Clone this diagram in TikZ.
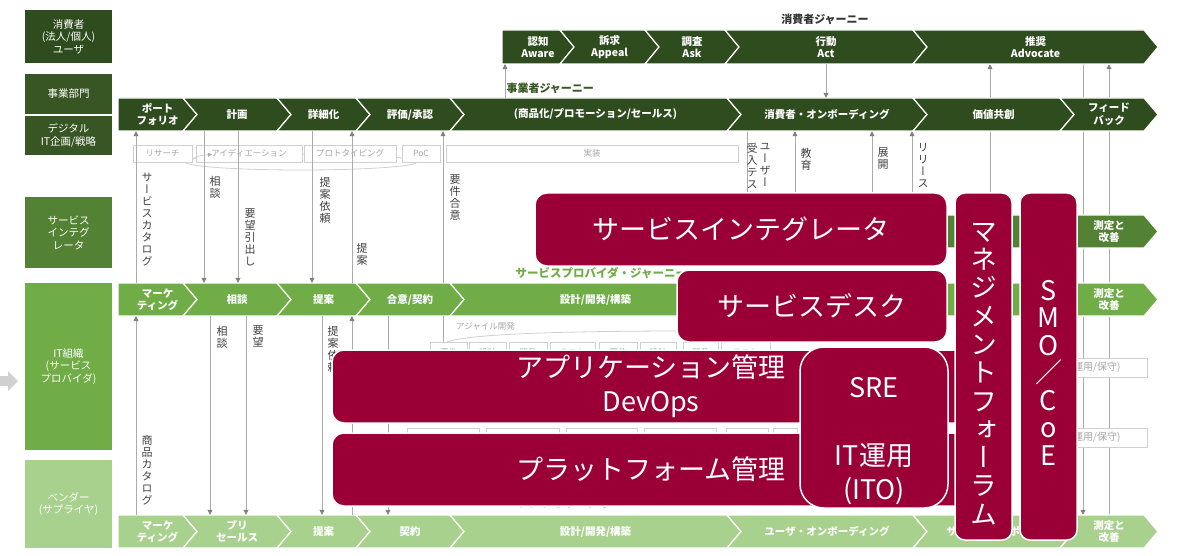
\documentclass[tikz,border=0pt]{standalone}
\usepackage{fontspec}
\setmainfont{Noto Sans CJK JP}
\newfontfamily\vjp{Noto Sans CJK JP}[RawFeature=+vert]
\usetikzlibrary{arrows.meta,calc}
\definecolor{jDark}{HTML}{2F4C1F}
\definecolor{jBiz}{HTML}{375623}
\definecolor{jSI}{HTML}{548235}
\definecolor{jIT}{HTML}{70AD47}
\definecolor{jVen}{HTML}{A9D18E}
\definecolor{roleRed}{HTML}{9A0036}
\definecolor{lineGray}{HTML}{ABABAB}
\definecolor{tipGray}{HTML}{808080}
\definecolor{boxGray}{HTML}{D0D0D0}
\definecolor{txtGray}{HTML}{A6A6A6}
\pgfdeclarelayer{bg}
\pgfsetlayers{bg,main}
\tikzset{
    side/.style={
        text=white,
        align=center,
        inner sep=0pt,
        font=\fontsize{10.5}{12.5}\selectfont
    },
    seglabel/.style={
        text=white,
        align=center,
        inner sep=0pt,
        font=\bfseries\fontsize{10.5}{12.5}\selectfont
    },
    taskbox/.style={
        draw=boxGray,
        fill=white,
        text=txtGray,
        inner sep=0pt,
        minimum height=17pt,
        font=\fontsize{8.5}{10}\selectfont
    },
    vlabel/.style={
        anchor=north,
        align=center,
        inner sep=0pt,
        text=black!75,
        font=\vjp\fontsize{11}{12}\selectfont
    },
    flow/.style={
        draw=lineGray,
        line width=0.7pt,
        -{Triangle[width=5pt,length=5pt,color=tipGray]}
    },
    plainline/.style={
        draw=lineGray,
        line width=0.7pt
    },
    loopline/.style={
        draw=boxGray,
        line width=0.8pt
    },
    role/.style={
        fill=roleRed,
        draw=white,
        line width=1.5pt,
        rounded corners=12pt,
        text=white,
        align=center,
        inner sep=0pt,
        font=\fontsize{27}{34}\selectfont
    },
    roletext/.style={
        text=white,
        align=center,
        inner sep=0pt,
        font=\fontsize{27}{34}\selectfont
    },
    journey/.style={
        font=\bfseries\fontsize{11}{12}\selectfont
    }
}
% one chevron of a journey row: name, left x, right x, top y, bottom y, colour, notch, label
\newcommand{\chevseg}[8]{%
    \pgfmathsetmacro{\segmid}{(#4+#5)/2}%
    \pgfmathsetmacro{\segcx}{(#2+#3)/2+7}%
    \fill[#6, draw=white, line width=1.2pt] (#2,#4) -- (#3,#4) -- (#3+14,\segmid) -- (#3,#5) -- (#2,#5) -- (#2+#7,\segmid) -- cycle;
    \node[seglabel, minimum width={(#3-#2)*1pt}, minimum height={(#5-#4)*1pt}] (#1) at (\segcx,\segmid) {#8};
}
\begin{document}
\begin{tikzpicture}[x=1pt, y=-1pt]
    \useasboundingbox (0,0) rectangle (1178,556);

    % Actors on the left
    \node[side, fill=jDark, minimum width=87pt, minimum height=53pt] (sideUser) at (68.5,36.5) {消費者\\(法人/個人)\\ユーザ};
    \node[side, fill=jBiz, minimum width=87pt, minimum height=40pt] (sideBiz) at (68.5,94) {事業部門};
    \node[side, fill=jBiz, minimum width=87pt, minimum height=39pt] (sideDx) at (68.5,135.5) {デジタル\\IT企画/戦略};
    \node[side, fill=jSI, minimum width=87pt, minimum height=71pt] (sideSI) at (68.5,232.5) {サービス\\インテグ\\レータ};
    \node[side, fill=jIT, minimum width=87pt, minimum height=167pt] (sideIT) at (68.5,366.5) {IT組織\\(サービス\\プロバイダ)};
    \node[side, fill=jVen, minimum width=87pt, minimum height=88pt] (sideVen) at (68.5,504) {ベンダー\\(サプライヤ)};
    \fill[boxGray] (0,376) -- (8,376) -- (8,371) -- (18,381) -- (8,391) -- (8,386) -- (0,386) -- cycle;

    % Journey titles
    \node[journey, text=black!80] (userJourney) at (825,19) {消費者ジャーニー};
    \node[journey, text=jBiz, anchor=west] (bizJourney) at (503,88) {事業者ジャーニー};

    % Consumer journey
    \chevseg{aware}{502}{560}{30}{64}{jDark}{0}{認知\\Aware}
    \chevseg{appeal}{560}{645}{30}{64}{jDark}{14}{訴求\\Appeal}
    \chevseg{ask}{645}{725}{30}{64}{jDark}{14}{調査\\Ask}
    \chevseg{act}{725}{913}{30}{64}{jDark}{14}{行動\\Act}
    \chevseg{advocate}{913}{1144}{30}{64}{jDark}{14}{推奨\\Advocate}

    % Business journey
    \chevseg{bizPf}{118}{183}{98}{131}{jDark}{0}{ポート\\フォリオ}
    \chevseg{bizPlan}{183}{277}{98}{131}{jDark}{14}{計画}
    \chevseg{bizDet}{277}{356}{98}{131}{jDark}{14}{詳細化}
    \chevseg{bizEval}{356}{450}{98}{131}{jDark}{14}{評価/承認}
    \chevseg{bizSales}{450}{727}{98}{131}{jDark}{14}{(商品化/プロモーション/セールス)}
    \chevseg{bizOnb}{727}{913}{98}{131}{jDark}{14}{消費者・オンボーディング}
    \chevseg{bizCo}{913}{1060}{98}{131}{jDark}{14}{価値共創}
    \chevseg{bizFb}{1060}{1144}{98}{131}{jDark}{14}{フィード\\バック}

    % Service integrator row
    \chevseg{siA}{727}{913}{215}{248}{jSI}{14}{}
    \chevseg{siB}{913}{1060}{215}{248}{jSI}{14}{}
    \chevseg{siMeas}{1060}{1144}{215}{248}{jSI}{14}{測定と\\改善}

    % Service provider journey
    \chevseg{itMkt}{118}{183}{283}{316}{jIT}{0}{マーケ\\ティング}
    \chevseg{itCon}{183}{277}{283}{316}{jIT}{14}{相談}
    \chevseg{itProp}{277}{356}{283}{316}{jIT}{14}{提案}
    \chevseg{itAgree}{356}{450}{283}{316}{jIT}{14}{合意/契約}
    \chevseg{itBuild}{450}{727}{283}{316}{jIT}{14}{設計/開発/構築}
    \chevseg{itOnb}{727}{913}{283}{316}{jIT}{14}{}
    \chevseg{itRun}{913}{1060}{283}{316}{jIT}{14}{}
    \chevseg{itMeas}{1060}{1144}{283}{316}{jIT}{14}{測定と\\改善}

    % Supplier journey
    \chevseg{venMkt}{118}{183}{515}{548}{jVen}{0}{マーケ\\ティング}
    \chevseg{venPre}{183}{277}{515}{548}{jVen}{14}{プリ\\セールス}
    \chevseg{venProp}{277}{356}{515}{548}{jVen}{14}{提案}
    \chevseg{venDeal}{356}{450}{515}{548}{jVen}{14}{契約}
    \chevseg{venBuild}{450}{727}{515}{548}{jVen}{14}{設計/開発/構築}
    \chevseg{venOnb}{727}{913}{515}{548}{jVen}{14}{ユーザ・オンボーディング}
    \chevseg{venSup}{913}{1060}{515}{548}{jVen}{14}{サービス・サポート}
    \chevseg{venMeas}{1060}{1144}{515}{548}{jVen}{14}{測定と\\改善}

    % Planning tasks
    \draw[loopline] (301,162) ellipse [x radius=116, y radius=8];
    \node[taskbox, minimum width=59pt] (research) at (162.5,153.5) {リサーチ};
    \node[taskbox, minimum width=106pt] (ideation) at (249,153.5) {アイディエーション};
    \node[taskbox, minimum width=92pt] (proto) at (350,153.5) {プロトタイピング};
    \node[taskbox, minimum width=38pt] (poc) at (421,153.5) {PoC};
    \node[taskbox, minimum width=292pt] (impl) at (592,153.5) {実装};
    \draw[loopline, -{Triangle[width=4pt,length=4pt,color=lineGray]}] (193,158.5) .. controls (198,156) .. (212,154.3);

    % Business <-> consumer
    \draw[flow] (505,0 |- bizSales.north) -- (505,0 |- aware.south);
    \draw[flow] (826,0 |- act.south) -- (826,0 |- bizOnb.north);

    % Business <-> service provider
    \draw[flow] (136,0 |- itMkt.north) -- (136,0 |- bizPf.south);
    \foreach \x/\a/\b in {204/bizPlan/itCon, 238/bizPlan/itCon, 312/bizDet/itProp}
        \draw[flow] (\x,0 |- \a.south) -- (\x,0 |- \b.north);
    \foreach \x/\a/\b in {352/itProp/bizDet, 443/itAgree/bizEval}
        \draw[flow] (\x,0 |- \a.north) -- (\x,0 |- \b.south);

    % Service provider <-> supplier
    \draw[flow] (136,0 |- venMkt.north) -- (136,0 |- itMkt.south);
    \foreach \x/\a/\b in {210/itCon/venPre, 246/itCon/venPre, 322/itProp/venProp, 388/itAgree/venDeal}
        \draw[flow] (\x,0 |- \a.south) -- (\x,0 |- \b.north);
    \draw[flow] (352,0 |- venProp.north) -- (352,0 |- itProp.south);
    \coordinate (agileTop) at (443,344);
    \draw[plainline] (443,0 |- itAgree.south) -- (agileTop);

    % Arrow texts
    \node[vlabel] (tCatalog) at (147,173) {サ\\ー\\ビ\\ス\\カ\\タ\\ロ\\グ};
    \node[vlabel] (tTalk) at (215,176) {相\\談};
    \node[vlabel] (tNeeds) at (250,209) {要\\望\\引\\出\\し};
    \node[vlabel] (tRfp) at (325,177) {提\\案\\依\\頼};
    \node[vlabel] (tProp) at (362,243) {提\\案};
    \node[vlabel] (tReq) at (455,175) {要\\件\\合\\意};
    \node[vlabel] (tUser) at (765,143) {ユ\\ー\\ザ\\ー};
    \node[vlabel] (tUat) at (752,143) {受\\入\\テ\\ス\\ト};
    \node[vlabel] (tEdu) at (806,148) {教\\育};
    \node[vlabel] (tDeploy) at (883,148) {展\\開};
    \node[vlabel] (tRelease) at (923,143) {リ\\リ\\ー\\ス};
    \node[vlabel] (tTalk2) at (222,326) {相\\談};
    \node[vlabel] (tNeeds2) at (258,326) {要\\望};
    \node[vlabel] (tRfp2) at (333,326) {提\\案\\依\\頼};
    \node[vlabel] (tProducts) at (147,435) {商\\品\\カ\\タ\\ロ\\グ};

    % Agile development
    \node[anchor=west, text=txtGray, inner sep=0pt, font=\fontsize{8.5}{10}\selectfont] (agileLbl) at (456,326) {アジャイル開発};
    \draw[loopline] (agileTop) .. controls (455,334) and (560,331) .. (690,331);
    \foreach \a/\b/\t [count=\i] in {430/467/要件, 469/506/設計, 509/547/開発, 550/595/テスト, 599/637/要件, 640/676/設計, 683/718/開発, 721/770/テスト}
        \node[taskbox, minimum width={(\b-\a)*1pt}, minimum height=20pt] (agile\i) at ({(\a+\b)/2},352) {\t};
    \foreach \a/\b [count=\i] in {407/479, 486/559, 566/637, 644/716, 726/768, 773/797}
        \node[taskbox, minimum width={(\b-\a)*1pt}, minimum height=18pt] (opsTask\i) at ({(\a+\b)/2},437) {};
    \node[taskbox, minimum width=127pt, minimum height=19pt, text width=74pt, align=right, font=\fontsize{10}{12}\selectfont] (opsA) at (1083.5,367.5) {(運用/保守)};
    \node[taskbox, minimum width=127pt, minimum height=19pt, text width=74pt, align=right, font=\fontsize{10}{12}\selectfont] (opsB) at (1083.5,437.5) {(運用/保守)};

    % Journey names under the roles
    \node[journey, text=jIT, font=\bfseries\fontsize{11.5}{13}\selectfont, anchor=west] (spJourney) at (512,273) {サービスプロバイダ・ジャーニー};
    \node[journey, text=jVen, font=\bfseries\fontsize{12}{13}\selectfont, anchor=west] (supJourney) at (512,503) {サプライヤ・ジャーニー};

    % Roles
    \node[role, minimum width=638pt, minimum height=73pt] (appMgmt) at (651,386.5) {アプリケーション管理\\DevOps};
    \node[role, minimum width=638pt, minimum height=73pt] (platMgmt) at (651,469.5) {プラットフォーム管理};
    \node[role, rounded corners=24pt, minimum width=148pt, minimum height=161pt] (sre) at (874,427.5) {};
    \node[roletext] (sreText) at (874,441) {SRE\\[34pt]IT運用\\(ITO)};
    \node[role, minimum width=412pt, minimum height=73pt] (si) at (741,229.5) {サービスインテグレータ};
    \node[role, minimum width=270pt, minimum height=72pt] (desk) at (812,306) {サービスデスク};
    \node[role, rounded corners=10pt, minimum width=57pt, minimum height=347pt] (mgmt) at (983.5,366.5) {};
    \node[roletext, font=\vjp\fontsize{27}{28.3}\selectfont] (mgmtText) at (983.5,374) {マ\\ネ\\ジ\\メ\\ン\\ト\\フ\\ォ\\ー\\ラ\\ム};
    \node[role, rounded corners=10pt, minimum width=57pt, minimum height=347pt] (smo) at (1048.5,366.5) {};
    \node[roletext, font=\fontsize{27}{27.5}\selectfont] (smoText) at (1048.5,372.5) {S\\M\\O\\／\\C\\o\\E};

    % Lines passing behind rows and roles
    \begin{pgfonlayer}{bg}
        \draw[plainline] (747,0 |- si.north) -- (747,0 |- bizOnb.south);
        \foreach \x in {795, 872, 912}
            \draw[flow] (\x,0 |- si.north) -- (\x,0 |- bizOnb.south);
        \draw[flow] (990,0 |- mgmt.north) -- (990,0 |- advocate.south);
        \draw[flow] (1083,0 |- advocate.south) -- (1083,0 |- venMeas.north);
        \draw[flow] (1109,0 |- venMeas.north) -- (1109,0 |- advocate.south);
    \end{pgfonlayer}
\end{tikzpicture}
\end{document}
